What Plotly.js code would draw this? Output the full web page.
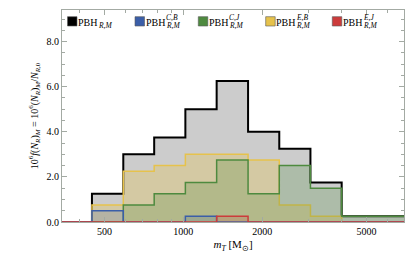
<!DOCTYPE html>
<html><head><meta charset="utf-8">
<script src="https://cdn.plot.ly/plotly-3.0.1.min.js"></script>
<style>html,body{margin:0;padding:0;background:#fff;}#c{width:415px;height:264px;}</style>
</head><body><div id="c"></div>
<script>
// bin edges (solar masses) and per-bin values (10^6 f)
const binEdges = [300, 448, 590, 774, 1018, 1340, 1766, 2323, 3055, 4020, 5290, 6960, 9000];
const total = [0, 1.25, 3.0, 3.75, 5.0, 6.25, 4.0, 3.25, 1.75, 0.25, 0.25, 0.25];
const eb    = [0, 0.75, 2.25, 2.5, 3.0, 3.0, 2.75, 0.75, 0.25, 0, 0, 0];
const cj    = [0, 0, 0.75, 1.25, 1.75, 2.75, 1.25, 2.5, 1.5, 0.25, 0.25, 0.25];
const cb    = [0, 0.5, 0, 0, 0.25, 0, 0, 0, 0, 0, 0, 0];
const ej    = [0, 0, 0, 0, 0, 0.25, 0, 0, 0, 0, 0, 0];
const xTickVals = [500, 1000, 2000, 5000];
const xTickText = ['500', '1000', '2000', '5000'];
const yTickVals = [0, 2, 4, 6, 8];
const yTickText = ['0.0', '2.0', '4.0', '6.0', '8.0'];

function stepTrace(vals, line, fill, w) {
  const x = [binEdges[0]], y = [0];
  for (let i = 0; i < vals.length; i++) { x.push(binEdges[i]); y.push(vals[i]); }
  x.push(binEdges[binEdges.length - 1]); y.push(vals[vals.length - 1]);
  x.push(binEdges[binEdges.length - 1]); y.push(0);
  return {x, y, type: 'scatter', mode: 'lines', line: {shape: 'hv', color: line, width: w},
          fill: 'tozeroy', fillcolor: fill, showlegend: false, hoverinfo: 'skip'};
}
const series = [
  {v: total, line: '#000000', fill: 'rgba(0,0,0,0.2)', w: 2},
  {v: eb, line: '#e6c24c', fill: 'rgba(232,197,71,0.3)', w: 1.5},
  {v: cj, line: '#4e8a3f', fill: 'rgba(78,138,63,0.25)', w: 1.5},
  {v: cb, line: '#3b5ea8', fill: 'rgba(59,94,168,0.2)', w: 1.5},
  {v: ej, line: '#cc3b3b', fill: 'rgba(204,59,59,0.2)', w: 1.5}
];
const data = series.map(s => stepTrace(s.v, s.line, s.fill, s.w));

// legend built from annotations/shapes
const L = 62, R = 404, T = 10, B = 222;
const px = v => (v - L) / (R - L), py = v => (B - v) / (B - T);
const legend = [
  {x: 67.5, c: '#000000', sup: ''},
  {x: 135, c: '#3b5ea8', sup: 'C,B'},
  {x: 198.3, c: '#4e8a3f', sup: 'C,J'},
  {x: 265.7, c: '#e6c24c', sup: 'E,B'},
  {x: 332.3, c: '#cc3b3b', sup: 'E,J'}
];
const shapes = [], annotations = [];
const ff = 'Liberation Serif, Times New Roman, serif';
legend.forEach(it => {
  shapes.push({type: 'rect', xref: 'paper', yref: 'paper', x0: px(it.x), x1: px(it.x + 9.5),
    y0: py(26), y1: py(16.7), fillcolor: it.c, line: {color: 'rgba(90,90,90,0.6)', width: 1}});
  annotations.push({xref: 'paper', yref: 'paper', x: px(it.x + 9.5), y: py(22.3), xanchor: 'left', yanchor: 'middle',
    text: 'PBH', showarrow: false, font: {family: ff, size: 10, color: '#000'}, borderpad: 0});
  annotations.push({xref: 'paper', yref: 'paper', x: px(it.x + 29.5), y: py(25.8), xanchor: 'left', yanchor: 'middle',
    text: '<i>R,M</i>', showarrow: false, font: {family: ff, size: 7.5, color: '#000'}, borderpad: 0});
  if (it.sup) annotations.push({xref: 'paper', yref: 'paper', x: px(it.x + 29.5), y: py(17.5), xanchor: 'left', yanchor: 'middle',
    text: '<i>' + it.sup + '</i>', showarrow: false, font: {family: ff, size: 7.5, color: '#000'}, borderpad: 0});
});

const frame = '#a3aaa3';
const layout = {
  width: 415, height: 264,
  margin: {l: 62, r: 11, t: 10, b: 42, pad: 0},
  paper_bgcolor: '#fff', plot_bgcolor: '#fff',
  font: {family: ff, size: 10, color: '#000'},
  showlegend: false,
  xaxis: {type: 'log', range: [2.537, 3.842], tickvals: xTickVals, ticktext: xTickText,
    ticks: 'inside', ticklen: 5, tickcolor: frame, showline: true, linecolor: frame, linewidth: 1,
    mirror: 'ticks', showgrid: false, zeroline: false,
    minor: {tickvals: [400, 600, 700, 800, 900, 3000, 4000, 6000], ticks: 'inside', ticklen: 3, tickcolor: frame},
    tickfont: {family: ff, size: 10},
    title: {text: '<i>m<sub>T</sub></i> [M<sub>⊙</sub>]', font: {family: ff, size: 11}, standoff: 4}},
  yaxis: {range: [0, 9.4], tickvals: yTickVals, ticktext: yTickText,
    ticks: 'inside', ticklen: 5, tickcolor: frame, showline: true, linecolor: frame, linewidth: 1,
    mirror: 'ticks', showgrid: false, zeroline: false,
    minor: {dtick: 0.5, ticks: 'inside', ticklen: 3, tickcolor: frame},
    tickfont: {family: ff, size: 10},
    title: {text: '10<sup>6</sup><i>f</i>(<i>N<sub>R</sub></i>)<sub><i>M</i></sub> = 10<sup>6</sup>(<i>N<sub>R</sub></i>)<sub><i>M</i></sub>/<i>N<sub>R</sub></i><sub>,0</sub>',
      font: {family: ff, size: 10}, standoff: 6}},
  shapes, annotations
};
Plotly.newPlot('c', data, layout, {displayModeBar: false, staticPlot: true});
</script></body></html>
